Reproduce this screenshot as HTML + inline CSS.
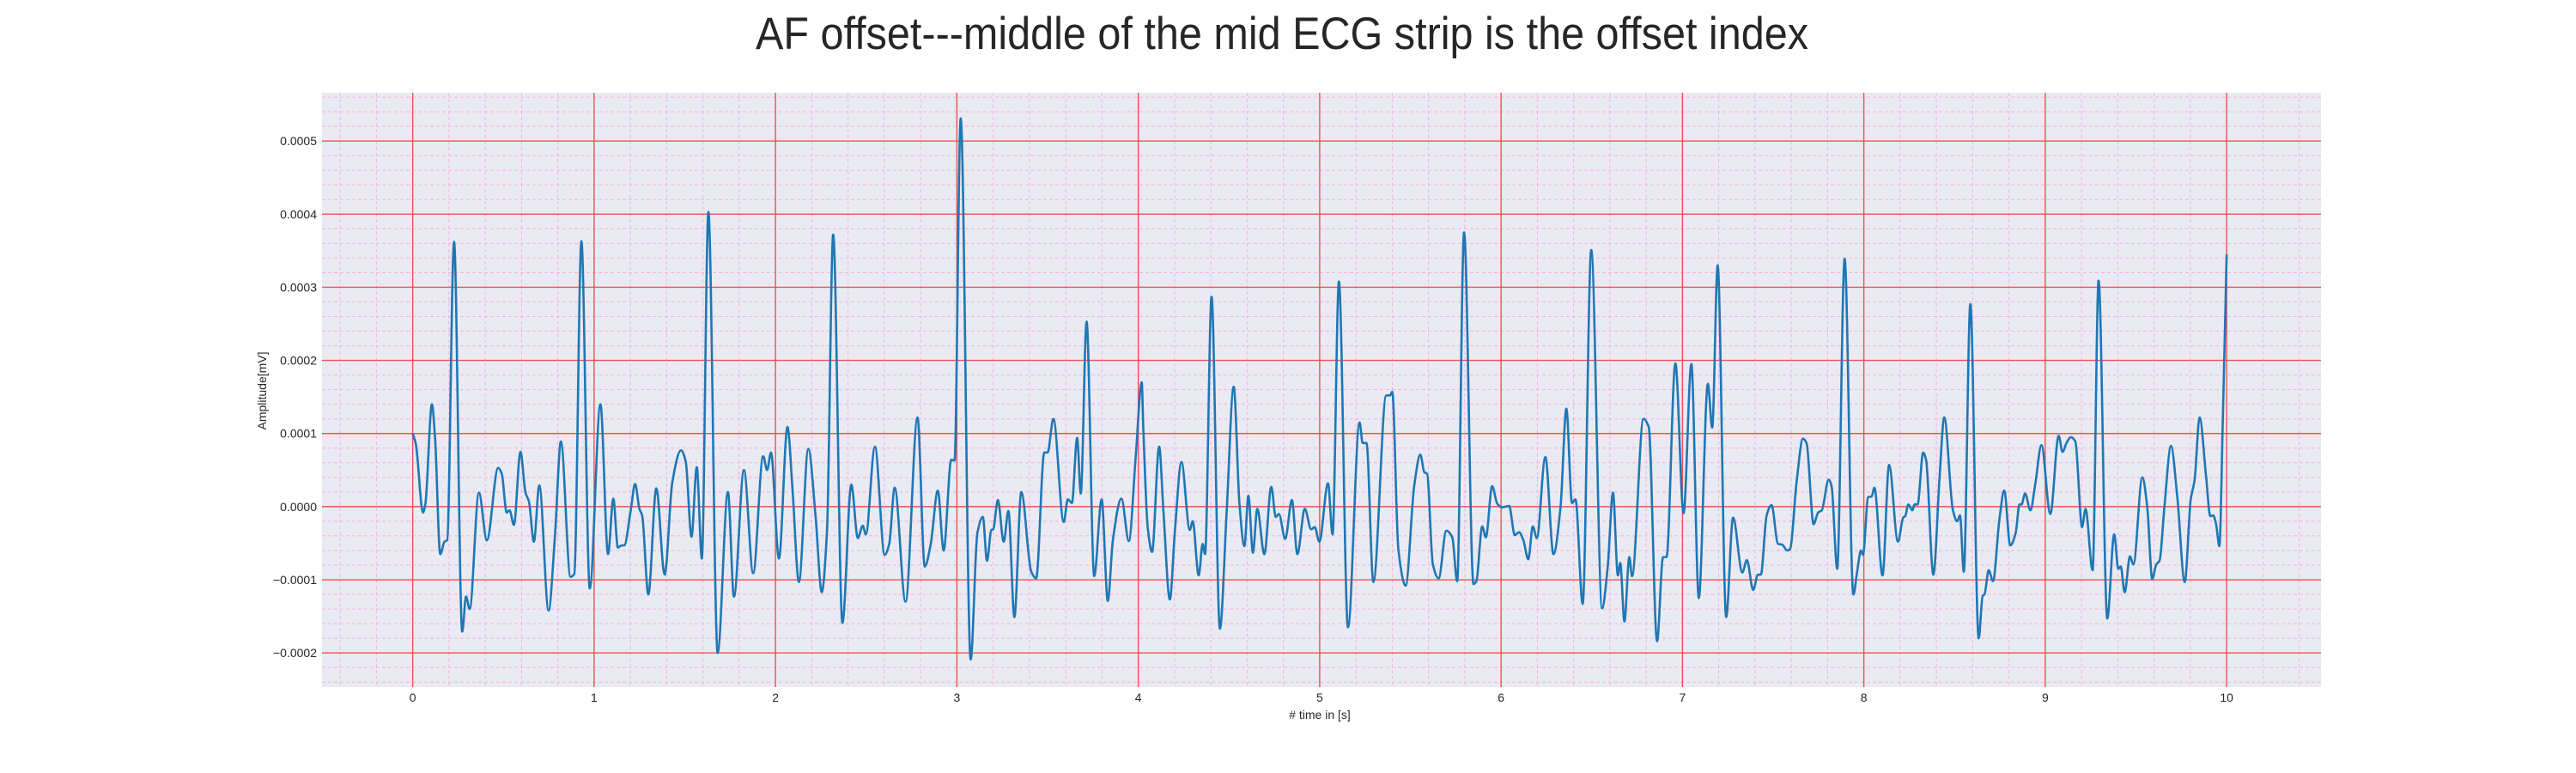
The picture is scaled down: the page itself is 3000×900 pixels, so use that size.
<!DOCTYPE html>
<html>
<head>
<meta charset="utf-8">
<style>
  html, body { margin: 0; padding: 0; background: #ffffff; }
  svg { display: block; font-family: "Liberation Sans", "DejaVu Sans", sans-serif; }
</style>
</head>
<body>
<svg id="chart" width="3000" height="900" viewBox="0 0 3000 900" xmlns="http://www.w3.org/2000/svg">
  <rect x="0" y="0" width="3000" height="900" fill="#ffffff"/>
  <text x="1493" y="57" font-size="53" text-anchor="middle" fill="#262626" textLength="1226" lengthAdjust="spacingAndGlyphs">AF offset---middle of the mid ECG strip is the offset index</text>
  <rect x="375" y="108" width="2328" height="692" fill="#eaeaf2"/>
  <g id="minor-grid"></g>
  <g id="major-grid"></g>
  <g id="series"></g>
  <g id="x-ticks"></g>
  <g id="y-ticks"></g>
  <text x="1537" y="837" font-size="14" text-anchor="middle" fill="#262626"># time in [s]</text>
  <text x="0" y="0" font-size="14" text-anchor="middle" fill="#262626" transform="translate(310,455) rotate(-90)">Amplitude[mV]</text>
</svg>
<script>
// ---- data (amplitude values in units of 1e-4 mV) ----
const timeS = [0,0.017,0.057,0.07,0.106,0.123,0.152,0.175,0.19,0.228,0.273,0.294,0.314,0.365,0.409,0.471,0.491,0.518,0.534,0.558,0.594,0.622,0.641,0.668,0.698,0.749,0.784,0.817,0.870,0.891,0.930,0.976,1.035,1.077,1.106,1.131,1.152,1.166,1.202,1.226,1.25,1.265,1.299,1.343,1.389,1.431,1.479,1.505,1.537,1.566,1.594,1.630,1.681,1.738,1.771,1.826,1.877,1.932,1.954,1.975,
2.019,2.066,2.094,2.129,2.181,2.221,2.255,2.284,2.318,2.369,2.418,2.454,2.481,2.498,2.548,2.602,2.627,2.657,2.717,2.783,2.823,2.856,2.895,2.927,2.969,2.987,3.021,3.076,3.113,3.143,3.166,3.190,3.20,3.226,3.258,3.284,3.317,3.355,3.410,3.437,3.482,3.50,3.532,3.589,3.612,3.634,3.663,3.683,3.715,3.757,3.798,3.832,3.860,3.907,3.948,3.986,4.019,
4.028,4.052,4.076,4.115,4.139,4.174,4.202,4.238,4.284,4.300,4.333,4.355,4.368,4.404,4.450,4.487,4.526,4.558,4.585,4.607,4.632,4.656,4.695,4.733,4.758,4.775,4.810,4.847,4.877,4.918,4.953,4.973,4.998,5.046,5.071,5.106,5.156,5.220,5.237,5.258,5.296,5.367,5.387,5.400,5.434,5.474,5.521,5.555,5.577,5.592,5.624,5.656,5.698,5.731,5.758,5.796,5.848,5.864,5.896,5.916,5.951,5.979,6.006,6.044,
6.076,6.099,6.123,6.150,6.175,6.197,6.244,6.289,6.328,6.360,6.391,6.410,6.450,6.497,6.557,6.588,6.617,6.644,6.657,6.680,6.707,6.722,6.785,6.814,6.860,6.893,6.912,6.961,7.006,7.049,7.090,7.140,7.164,7.194,7.241,7.279,7.330,7.355,7.390,7.416,7.432,7.464,7.491,7.527,7.550,7.577,7.593,7.629,7.664,7.684,7.723,7.748,7.768,7.806,7.822,7.853,7.894,7.942,7.964,7.984,7.995,8.024,8.043,8.058,
8.103,8.139,8.188,8.217,8.228,8.245,8.267,8.280,8.296,8.327,8.343,8.383,8.418,8.443,8.491,8.514,8.530,8.551,8.587,8.633,8.655,8.665,8.688,8.712,8.747,8.774,8.807,8.837,8.858,8.869,8.889,8.918,8.945,8.979,9.028,9.074,9.095,9.119,9.142,9.166,9.203,9.222,9.261,9.294,9.342,9.380,9.403,9.416,9.438,9.467,9.486,9.535,9.562,9.590,9.612,9.630,9.657,9.693,9.728,9.769,9.802,9.823,9.851,9.886,9.910,9.926,9.941,9.960,9.978,10.0];
const ampE4 = [1.0,0.86,-0.08,0.04,1.40,0.95,-0.65,-0.48,-0.46,3.62,-1.71,-1.23,-1.40,0.19,-0.46,0.53,0.45,-0.08,-0.05,-0.25,0.75,0.19,0.07,-0.48,0.29,-1.42,-0.41,0.89,-0.96,-0.92,3.63,-1.12,1.40,-0.65,0.11,-0.56,-0.53,-0.53,-0.05,0.31,-0.03,-0.12,-1.20,0.25,-0.93,0.33,0.77,0.62,-0.41,0.54,-0.71,4.03,-2.0,0.20,-1.23,0.50,-0.91,0.69,0.50,0.74,
-0.71,1.09,0.23,-1.03,0.79,-0.13,-1.17,-0.33,3.72,-1.59,0.30,-0.43,-0.26,-0.38,0.82,-0.66,-0.51,0.26,-1.30,1.22,-0.82,-0.51,0.22,-0.60,0.64,0.63,5.31,-2.09,-0.36,-0.14,-0.74,-0.32,-0.31,0.09,-0.48,-0.06,-1.51,0.20,-0.89,-0.98,0.74,0.74,1.20,-0.21,0.10,0.05,0.94,0.18,2.53,-0.95,0.10,-1.29,-0.46,0.11,-0.47,0.69,1.70,
1.05,-0.28,-0.62,0.82,-0.08,-1.27,-0.33,0.61,-0.32,-0.20,-0.94,-0.51,-0.65,2.87,-1.67,-0.08,1.64,0.03,-0.54,0.15,-0.63,-0.03,-0.65,0.27,-0.14,-0.10,-0.44,0.09,-0.65,-0.03,-0.31,-0.28,-0.48,0.32,-0.38,3.08,-1.65,1.15,0.87,0.87,-1.03,1.52,1.52,1.57,-0.59,-1.08,0.28,0.71,0.47,0.45,-0.79,-0.98,-0.33,-0.42,-1.02,3.75,-1.06,-1.02,-0.27,-0.42,0.28,0.04,-0.01,0.01,
-0.39,-0.35,-0.46,-0.72,-0.27,-0.43,0.68,-0.65,0.0,1.34,0.05,0.10,-1.33,3.51,-1.39,-0.82,0.19,-0.94,-0.77,-1.57,-0.69,-0.95,1.20,1.09,-1.84,-0.69,-0.69,1.96,-0.09,1.95,-1.25,1.68,1.08,3.30,-1.51,-0.15,-0.90,-0.73,-1.14,-0.93,-0.93,-0.12,0.02,-0.51,-0.52,-0.60,-0.58,0.33,0.93,0.87,-0.24,-0.08,-0.05,0.37,0.28,-0.85,3.39,-1.20,-0.87,-0.60,-0.66,0.13,0.14,0.26,
-0.94,0.57,-0.48,-0.15,-0.13,0.03,-0.05,0.03,0.03,0.74,0.64,-0.93,0.43,1.22,-0.05,-0.20,-0.12,-0.89,2.77,-1.80,-1.22,-1.20,-0.87,-1.02,-0.18,0.22,-0.53,-0.36,0.03,0.03,0.18,-0.05,0.31,0.84,-0.10,0.97,0.75,0.88,0.95,0.89,-0.28,-0.03,-0.87,3.09,-1.53,-0.38,-0.85,-0.82,-1.17,-0.68,-0.79,0.40,0.0,-0.99,-0.79,-0.74,0.0,0.83,0.13,-1.03,0.10,0.36,1.22,0.43,-0.13,-0.12,-0.23,-0.54,1.10,3.45];
const xTickLabels = ["0","1","2","3","4","5","6","7","8","9","10"];
const yTickLabels = ["\u22120.0002","\u22120.0001","0.0000","0.0001","0.0002","0.0003","0.0004","0.0005"];
const yTickValues = [-2,-1,0,1,2,3,4,5];

// ---- axes ----
const X0 = 375, X1 = 2703, Y0 = 800, Y1 = 108;
const xMin = -0.5, xMax = 10.52, yMin = -2.468, yMax = 5.66;
function xs(t){ return X0 + (t - xMin) / (xMax - xMin) * (X1 - X0); }
function ys(v){ return Y0 - (v - yMin) / (yMax - yMin) * (Y0 - Y1); }
const NS = "http://www.w3.org/2000/svg";
function mk(tag, attrs, parent){
  const el = document.createElementNS(NS, tag);
  for (const k in attrs) el.setAttribute(k, attrs[k]);
  parent.appendChild(el);
  return el;
}

// minor grid
const gMin = document.getElementById('minor-grid');
for (let i = -2; i <= 52; i++) {
  const t = i * 0.2;
  if (i % 5 === 0) continue;
  const x = xs(t);
  if (x < X0 || x > X1) continue;
  const l = mk('line', {x1:x, x2:x, y1:Y1, y2:Y0, stroke:'#f2b2e2', 'stroke-width':1, 'stroke-dasharray':'4 3'}, gMin);
  
  
}
for (let i = -12; i <= 28; i++) {
  if (i % 5 === 0) continue;
  const y = ys(i * 0.2);
  if (y < Y1 || y > Y0) continue;
  const l = mk('line', {x1:X0, x2:X1, y1:y, y2:y, stroke:'#f2b2e2', 'stroke-width':1, 'stroke-dasharray':'4 3'}, gMin);
  
  
}
// major grid + tick labels
const gMaj = document.getElementById('major-grid');
const gX = document.getElementById('x-ticks');
const gY = document.getElementById('y-ticks');
xTickLabels.forEach(function(lab){
  const x = xs(parseFloat(lab));
  const l = mk('line', {x1:x, x2:x, y1:Y1, y2:Y0, stroke:'#f25050', 'stroke-width':1.4}, gMaj);
  
  
  const t = mk('text', {x:x, y:817, 'font-size':14, 'text-anchor':'middle', fill:'#262626'}, gX);
  t.textContent = lab;
  
  
});
yTickValues.forEach(function(v, i){
  const y = ys(v);
  const l = mk('line', {x1:X0, x2:X1, y1:y, y2:y, stroke:'#f25050', 'stroke-width':1.4}, gMaj);
  
  
  const t = mk('text', {x:369, y:y + 5, 'font-size':14, 'text-anchor':'end', fill:'#262626'}, gY);
  t.textContent = yTickLabels[i];
  
  
});

// series: monotone cubic (Fritsch-Carlson), no overshoot
const px = timeS.map(xs), py = ampE4.map(ys);
const n = px.length;
const dk = [], m = new Array(n);
for (let i = 0; i < n - 1; i++) dk.push((py[i+1] - py[i]) / (px[i+1] - px[i]));
m[0] = dk[0]; m[n-1] = dk[n-2];
for (let i = 1; i < n - 1; i++) {
  if (dk[i-1] * dk[i] <= 0) { m[i] = 0; }
  else {
    const h0 = px[i] - px[i-1], h1 = px[i+1] - px[i];
    const w1 = 2*h1 + h0, w2 = h1 + 2*h0;
    m[i] = (w1 + w2) / (w1 / dk[i-1] + w2 / dk[i]);
  }
}
let d = 'M' + px[0].toFixed(2) + ',' + py[0].toFixed(2);
for (let i = 0; i < n - 1; i++) {
  const h = px[i+1] - px[i];
  d += ' C' + (px[i] + h/3).toFixed(2) + ',' + (py[i] + m[i]*h/3).toFixed(2) + ' ' +
       (px[i+1] - h/3).toFixed(2) + ',' + (py[i+1] - m[i+1]*h/3).toFixed(2) + ' ' +
       px[i+1].toFixed(2) + ',' + py[i+1].toFixed(2);
}
const path = mk('path', {d:d, fill:'none', stroke:'#1f77b4', 'stroke-width':2.6, 'stroke-linejoin':'round'}, document.getElementById('series'));


</script>
</body>
</html>
